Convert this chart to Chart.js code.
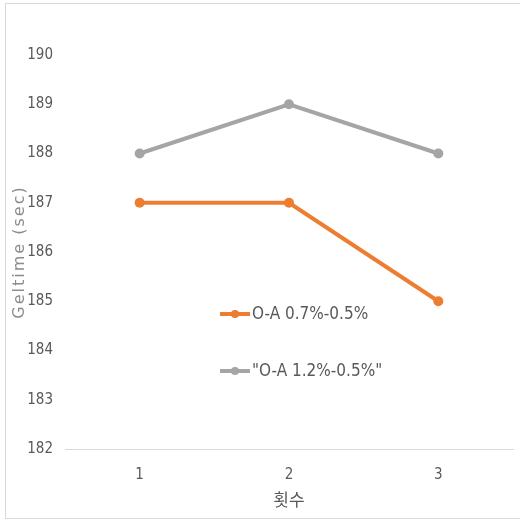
<!DOCTYPE html>
<html>
<head>
<meta charset="utf-8">
<script src="https://cdn.jsdelivr.net/npm/chart.js@4.4.1/dist/chart.umd.min.js"></script>
<style>
  body { margin: 0; background: #fff; }
  #wrap { position: relative; width: 520px; height: 523px; }
  #marco { position: absolute; left: 5px; top: 3px; width: 520px; height: 516px; border: 1px solid #d9d9d9; box-sizing: border-box; pointer-events: none; }
</style>
</head>
<body>
<div id="wrap">
  <canvas id="grafica" width="520" height="523"></canvas>
  <div id="marco"></div>
</div>
<script>
// Datos
const categorias = ['1', '2', '3'];
const serieA = [187, 187, 185];   // O-A 0.7%-0.5%
const serieB = [188, 189, 188];   // "O-A 1.2%-0.5%"
const nombres = ['O-A 0.7%-0.5%', '"O-A 1.2%-0.5%"'];
const colores = ['#ED7D31', '#A5A5A5'];

const fuenteNarrow = "'Liberation Sans Narrow', 'DejaVu Sans Condensed', 'Noto Sans CJK KR', sans-serif";

// Leyenda dibujada dentro del área del gráfico
const leyendaInterna = {
    id: 'leyendaInterna',
    afterDraw(chart) {
        const ctx = chart.ctx;
        const pos = [[220, 314], [220, 371]];
        ctx.save();
        chart.data.datasets.forEach((ds, i) => {
            const [x, y] = pos[i];
            ctx.strokeStyle = ds.borderColor;
            ctx.lineWidth = 4;
            ctx.beginPath();
            ctx.moveTo(x, y);
            ctx.lineTo(x + 30, y);
            ctx.stroke();
            ctx.fillStyle = ds.borderColor;
            ctx.beginPath();
            ctx.arc(x + 15, y, 4, 0, Math.PI * 2);
            ctx.fill();
            ctx.fillStyle = '#595959';
            ctx.font = "17px " + fuenteNarrow;
            ctx.textBaseline = 'middle';
            ctx.textAlign = 'left';
            ctx.fillText(ds.label, x + 32, y + 1);
        });
        ctx.restore();
    }
};

new Chart(document.getElementById('grafica'), {
    type: 'line',
    data: {
        labels: categorias,
        datasets: [
            { label: nombres[0], data: serieA, borderColor: colores[0], backgroundColor: colores[0],
              borderWidth: 4, pointRadius: 5, pointBackgroundColor: colores[0], pointBorderWidth: 0, tension: 0 },
            { label: nombres[1], data: serieB, borderColor: colores[1], backgroundColor: colores[1],
              borderWidth: 4, pointRadius: 5, pointBackgroundColor: colores[1], pointBorderWidth: 0, tension: 0 }
        ]
    },
    options: {
        responsive: false,
        animation: false,
        layout: { padding: { left: 5, right: 7, top: 55, bottom: 0 } },
        plugins: { legend: { display: false }, tooltip: { enabled: false } },
        scales: {
            x: {
                offset: true,
                grid: { display: false, drawTicks: false },
                border: { display: true, color: '#d9d9d9', width: 1 },
                ticks: { color: '#595959', padding: 17, font: { family: fuenteNarrow, size: 15 } },
                title: { display: true, text: '횟수', color: '#595959', padding: { top: 13, bottom: 13 },
                         font: { family: "'Noto Sans CJK KR', sans-serif", size: 17 } },
                afterFit(scale) { scale.height = 74; }
            },
            y: {
                min: 182, max: 190,
                grid: { display: false, drawTicks: false },
                border: { display: false },
                ticks: { stepSize: 1, color: '#595959', padding: 12, font: { family: fuenteNarrow, size: 15 } },
                title: { display: true, text: 'Geltime (sec)', color: '#8c8c8c', padding: { top: 5, bottom: 5 },
                         font: { family: "'DejaVu Sans', sans-serif", size: 16 } },
                afterFit(scale) {
                    scale.width = 60;
                    // título del eje Y con letras espaciadas, como en la imagen
                    if (!scale._espaciado) {
                        const original = scale.drawTitle;
                        scale.drawTitle = function () {
                            const ctx = this.ctx;
                            ctx.save();
                            ctx.letterSpacing = '2px';
                            original.call(this);
                            ctx.restore();
                        };
                        scale._espaciado = true;
                    }
                }
            }
        }
    },
    plugins: [leyendaInterna]
});
</script>
</body>
</html>
